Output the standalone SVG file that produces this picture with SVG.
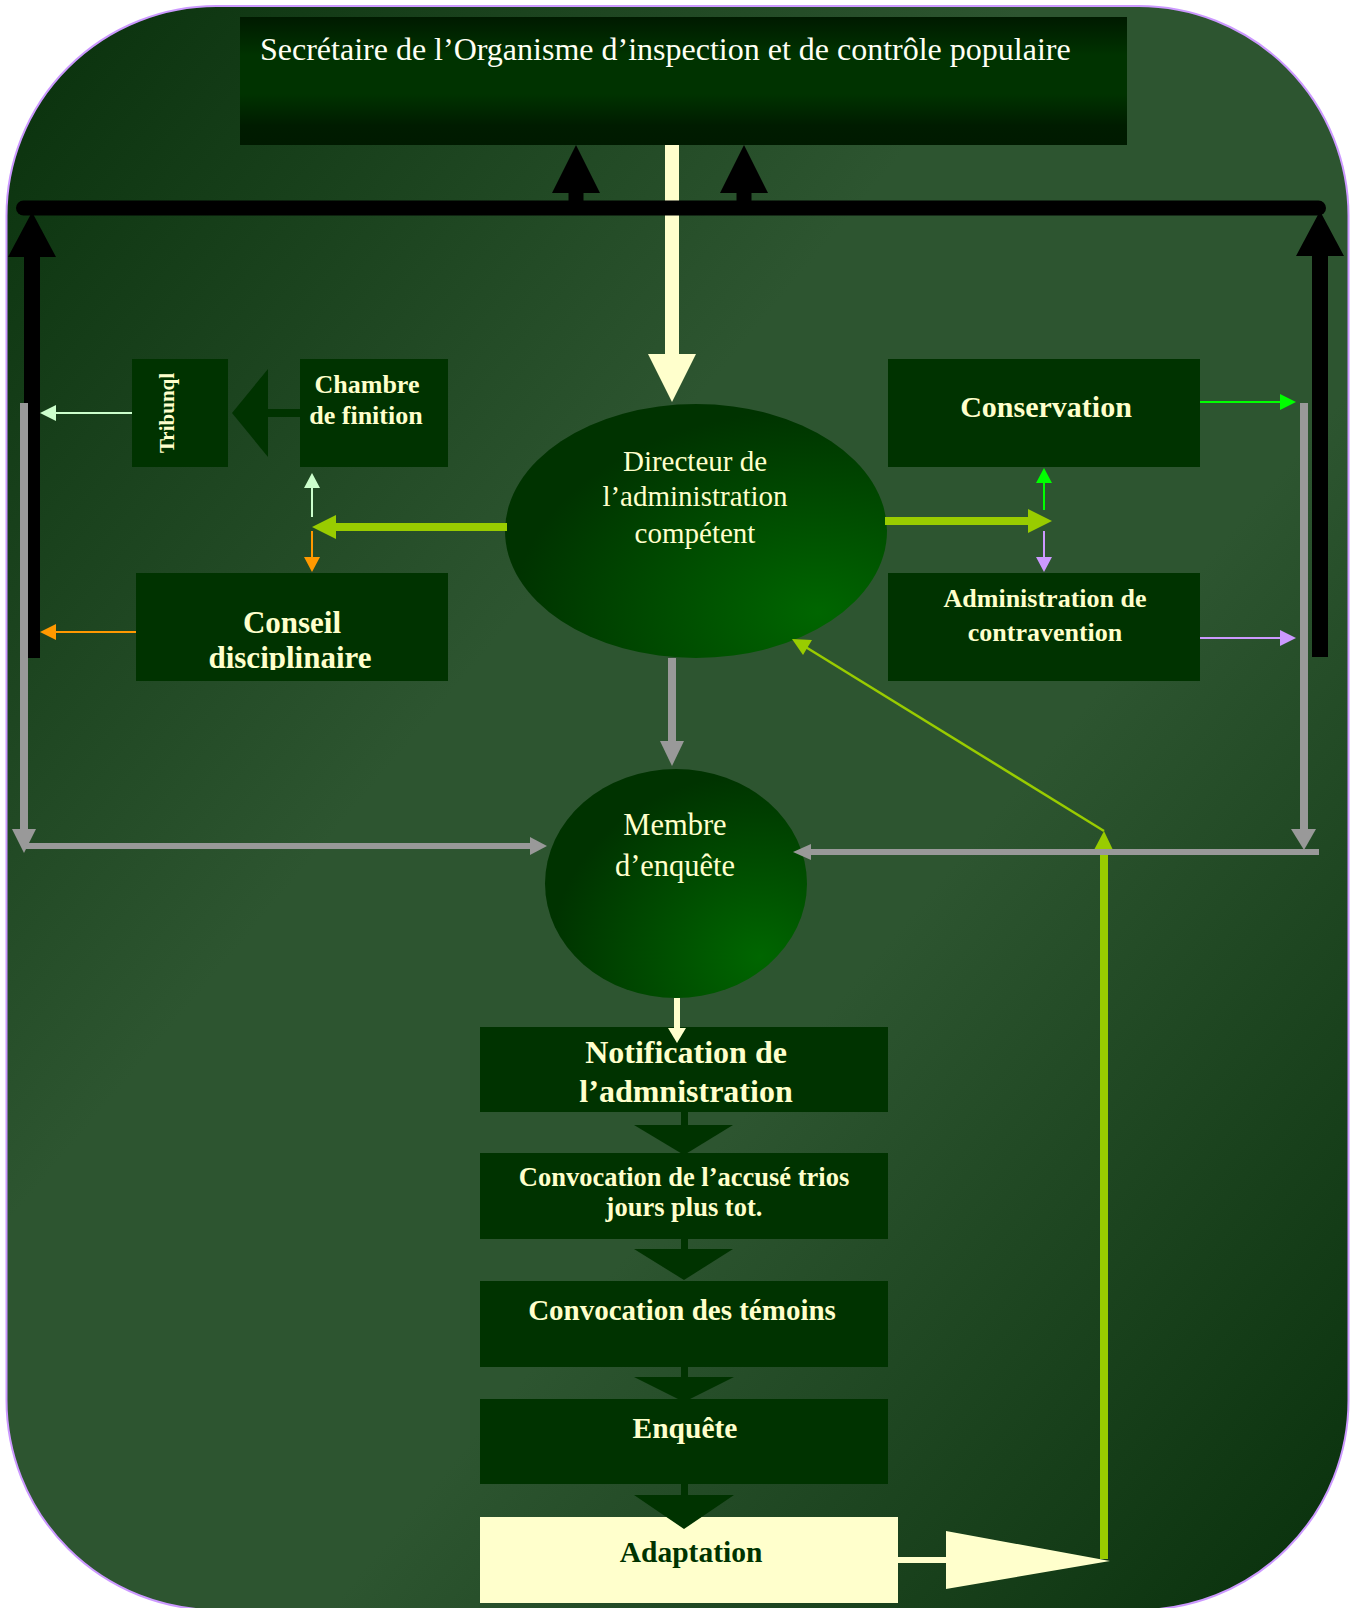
<svg xmlns="http://www.w3.org/2000/svg" width="1351" height="1608" viewBox="0 0 1351 1608">
<defs>
<linearGradient id="bg" x1="0" y1="0" x2="1" y2="1">
<stop offset="0" stop-color="#08300b"/>
<stop offset="0.38" stop-color="#2d5530"/>
<stop offset="0.62" stop-color="#2d5530"/>
<stop offset="1" stop-color="#08300b"/>
</linearGradient>
<linearGradient id="topg" x1="0" y1="0" x2="0" y2="1">
<stop offset="0" stop-color="#001a00"/>
<stop offset="0.3" stop-color="#003300"/>
<stop offset="0.6" stop-color="#003300"/>
<stop offset="0.85" stop-color="#001c00"/>
<stop offset="1" stop-color="#001a00"/>
</linearGradient>
<radialGradient id="ellg" cx="0.82" cy="0.82" r="0.8" fx="0.82" fy="0.82">
<stop offset="0" stop-color="#006600"/>
<stop offset="1" stop-color="#003300"/>
</radialGradient>
<clipPath id="clipConseil"><rect x="136" y="573" width="312" height="97"/></clipPath>
<style>
.box{fill:#003300}
.t{font-family:"Liberation Serif","Times New Roman",serif;fill:#ffffcc;text-anchor:middle}
.b{font-weight:bold}
.cream{fill:#ffffcc}
.blk{fill:#000}
.grey{fill:#999999}
.greyl{stroke:#999999;fill:none}
.lime{fill:#99cc00}
.limel{stroke:#99cc00;fill:none}
.lg{fill:#ccffcc}
.lgl{stroke:#ccffcc;stroke-width:2;fill:none}
.or{fill:#ff9900}
.orl{stroke:#ff9900;stroke-width:2;fill:none}
.gr{fill:#00ff00}
.grl{stroke:#00ff00;stroke-width:2;fill:none}
.pu{fill:#cc99ff}
.pul{stroke:#cc99ff;stroke-width:2;fill:none}
.dk{fill:#003300}
</style>
</defs>
<rect id="background" x="6.5" y="6" width="1342" height="1604" rx="210" ry="210" fill="url(#bg)" stroke="#cc99ff" stroke-width="2"/>

<g id="node-secretaire">
<rect x="240" y="17" width="887" height="128" fill="url(#topg)"/>
<text x="260" y="60" font-family="Liberation Serif, Times New Roman, serif" font-size="32" fill="#fffff4">Secrétaire de l’Organisme d’inspection et de contrôle populaire</text>
</g>

<g id="node-tribunal">
<rect class="box" x="132" y="359" width="96" height="108"/>
<text class="t b" font-size="21" transform="translate(174,413) rotate(-90)">Tribunql</text>
</g>

<g id="node-chambre">
<rect class="box" x="300" y="359" width="148" height="108"/>
<text class="t b" font-size="26" x="367" y="393">Chambre</text>
<text class="t b" font-size="26" x="366" y="424">de finition</text>
</g>

<g id="node-conseil">
<rect class="box" x="136" y="573" width="312" height="108"/>
<g clip-path="url(#clipConseil)">
<text class="t b" font-size="31" x="292" y="633">Conseil</text>
<text class="t b" font-size="31" x="290" y="668">disciplinaire</text>
</g>
</g>

<g id="node-directeur">
<ellipse cx="696" cy="531" rx="191" ry="127" fill="url(#ellg)"/>
<text class="t" font-size="29" x="695" y="471">Directeur de</text>
<text class="t" font-size="29" x="695" y="506">l’administration</text>
<text class="t" font-size="29" x="695" y="543">compétent</text>
</g>

<g id="node-conservation">
<rect class="box" x="888" y="359" width="312" height="108"/>
<text class="t b" font-size="30" x="1046" y="417">Conservation</text>
</g>

<g id="node-administration">
<rect class="box" x="888" y="573" width="312" height="108"/>
<text class="t b" font-size="26" x="1045" y="607">Administration de</text>
<text class="t b" font-size="26" x="1045" y="641">contravention</text>
</g>

<g id="node-membre">
<ellipse cx="676" cy="883.5" rx="131" ry="114.5" fill="url(#ellg)"/>
<text class="t" font-size="30.5" x="675" y="835">Membre</text>
<text class="t" font-size="30.5" x="675" y="876">d’enquête</text>
</g>

<g id="node-notification">
<rect class="box" x="480" y="1027" width="408" height="85"/>
<text class="t b" font-size="32" x="686" y="1063">Notification de</text>
<text class="t b" font-size="32" x="686" y="1102">l’admnistration</text>
</g>

<g id="node-convocation-accuse">
<rect class="box" x="480" y="1153" width="408" height="86"/>
<text class="t b" font-size="26.5" x="684" y="1186">Convocation de l’accusé trios</text>
<text class="t b" font-size="26.5" x="684" y="1216">jours plus tot.</text>
</g>

<g id="node-convocation-temoins">
<rect class="box" x="480" y="1281" width="408" height="86"/>
<text class="t b" font-size="29" x="682" y="1320">Convocation des témoins</text>
</g>

<g id="node-enquete">
<rect class="box" x="480" y="1399" width="408" height="85"/>
<text class="t b" font-size="29.5" x="685" y="1438">Enquête</text>
</g>

<g id="node-adaptation">
<rect class="cream" x="480" y="1517" width="418" height="86"/>
<text class="t b" font-size="29.5" x="691" y="1562" style="fill:#003300">Adaptation</text>
</g>

<g id="connectors">
<!-- secretaire to directeur -->
<rect class="cream" x="665" y="145" width="14" height="210"/>
<polygon class="cream" points="648,354 696,354 672,402"/>
<!-- left/right black risers -->
<rect class="blk" x="24" y="255" width="16" height="403"/>
<polygon class="blk" points="8,257 56,257 32,212"/>
<rect class="blk" x="1312" y="254" width="16" height="403"/>
<polygon class="blk" points="1296,256 1344,256 1320,211"/>
<!-- black bar -->
<line x1="23.5" y1="208" x2="1318.5" y2="208" stroke="#000" stroke-width="15" stroke-linecap="round"/>
<rect class="blk" x="568.5" y="192" width="15" height="12"/>
<polygon class="blk" points="552,193 600,193 576,145"/>
<rect class="blk" x="736.5" y="192" width="15" height="12"/>
<polygon class="blk" points="720,193 768,193 744,145"/>
<!-- chambre to tribunal -->
<rect class="dk" x="266" y="409" width="35" height="8"/>
<polygon class="dk" points="268,369 268,457 232,413"/>
<!-- tribunal to left -->
<line class="lgl" x1="132" y1="413" x2="55" y2="413"/>
<polygon class="lg" points="56,405 56,421 40,413"/>
<!-- conseil to left -->
<line class="orl" x1="136" y1="632" x2="55" y2="632"/>
<polygon class="or" points="56,624 56,640 40,632"/>
<!-- directeur left -->
<rect class="lime" x="335" y="523" width="172" height="8"/>
<polygon class="lime" points="336,515 336,539 312,527"/>
<line class="lgl" x1="312" y1="517" x2="312" y2="487"/>
<polygon class="lg" points="304,488 320,488 312,473"/>
<line class="orl" x1="312" y1="531" x2="312" y2="558"/>
<polygon class="or" points="304,557 320,557 312,572"/>
<!-- directeur right -->
<rect class="lime" x="885" y="517" width="144" height="8"/>
<polygon class="lime" points="1028,509 1028,533 1052,521"/>
<line class="grl" x1="1044" y1="510" x2="1044" y2="482"/>
<polygon class="gr" points="1036,483 1052,483 1044,468"/>
<line class="pul" x1="1044" y1="531" x2="1044" y2="558"/>
<polygon class="pu" points="1036,557 1052,557 1044,572"/>
<!-- conservation / administration to right -->
<line class="grl" x1="1200" y1="402" x2="1281" y2="402"/>
<polygon class="gr" points="1280,394 1280,410 1296,402"/>
<line class="pul" x1="1200" y1="638" x2="1281" y2="638"/>
<polygon class="pu" points="1280,630 1280,646 1296,638"/>
<!-- lime return from adaptation -->
<rect class="lime" x="1100" y="847" width="8" height="712"/>
<polygon class="lime" points="1094,850 1113,850 1104,831"/>
<line class="limel" x1="1104" y1="831" x2="804" y2="646" stroke-width="2.5"/>
<polygon class="lime" points="792,639 812,640 803,655"/>
<!-- grey connectors -->
<rect class="grey" x="20" y="403" width="8" height="428"/>
<polygon class="grey" points="12,829 36,829 24,853"/>
<rect class="grey" x="24" y="843" width="508" height="6"/>
<polygon class="grey" points="530,837 530,855 547,846"/>
<rect class="grey" x="1300" y="403" width="8" height="428"/>
<polygon class="grey" points="1291,829 1316,829 1304,850"/>
<rect class="grey" x="808" y="849" width="511" height="6"/>
<polygon class="grey" points="811,844 811,860 793,852"/>
<rect class="grey" x="668" y="658" width="8" height="85"/>
<polygon class="grey" points="660,741 684,741 672,766"/>
<!-- membre to notification -->
<rect class="cream" x="674" y="998" width="6" height="32"/>
<polygon class="cream" points="668,1028 686,1028 677,1043"/>
<!-- chevrons -->
<rect class="dk" x="681" y="1111" width="7" height="15"/>
<polygon class="dk" points="634,1125 733,1125 684,1155"/>
<rect class="dk" x="681" y="1238" width="7" height="12"/>
<polygon class="dk" points="634,1249 733,1249 684,1280"/>
<rect class="dk" x="681" y="1366" width="7" height="12"/>
<polygon class="dk" points="634,1377 734,1377 684,1402"/>
<rect class="dk" x="681" y="1483" width="7" height="13"/>
<polygon class="dk" points="634,1495 734,1495 684,1529"/>
<!-- adaptation to right -->
<rect class="cream" x="897" y="1557" width="50" height="6"/>
<polygon class="cream" points="946,1531 946,1589 1110,1561"/>
</g>
</svg>
